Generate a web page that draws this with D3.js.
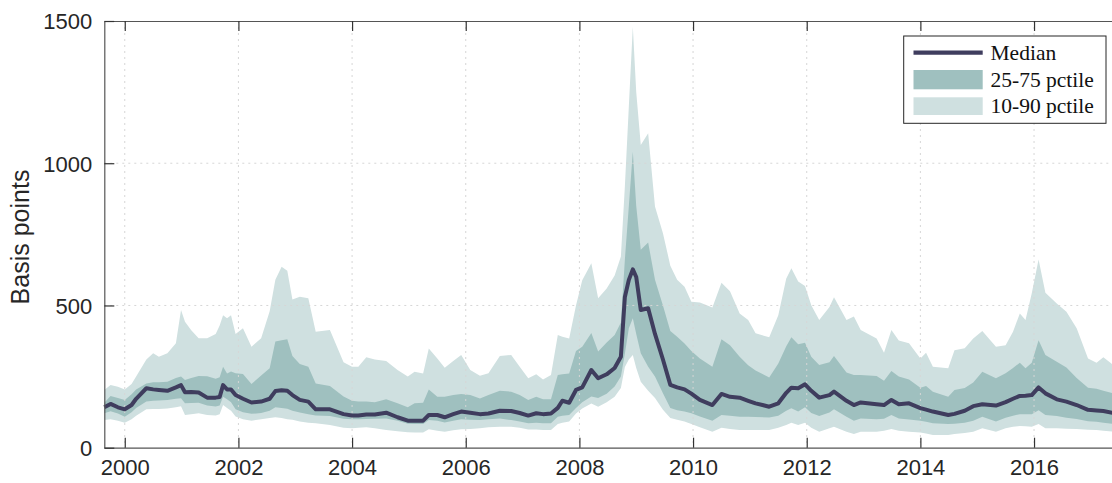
<!DOCTYPE html>
<html><head><meta charset="utf-8">
<script src="https://cdn.jsdelivr.net/npm/d3@7"></script>
<style>body{margin:0;background:#fff}svg{display:block}</style>
</head><body><svg id="c" width="1112" height="483"></svg>
<script>
const dates=[1999.64,1999.75,1999.88,2000.0,2000.12,2000.2,2000.38,2000.5,2000.6,2000.75,2000.9,2000.99,2001.06,2001.17,2001.3,2001.45,2001.6,2001.67,2001.73,2001.8,2001.87,2001.95,2002.08,2002.23,2002.4,2002.55,2002.65,2002.76,2002.86,2002.95,2003.08,2003.23,2003.36,2003.61,2003.85,2004.0,2004.11,2004.25,2004.4,2004.6,2004.8,2004.98,2005.1,2005.25,2005.35,2005.5,2005.63,2005.78,2005.92,2006.08,2006.25,2006.4,2006.6,2006.8,2006.95,2007.1,2007.24,2007.36,2007.5,2007.62,2007.7,2007.82,2007.94,2008.05,2008.21,2008.33,2008.48,2008.62,2008.73,2008.8,2008.87,2008.94,2009.0,2009.08,2009.21,2009.33,2009.47,2009.6,2009.72,2009.85,2009.97,2010.12,2010.34,2010.5,2010.65,2010.82,2010.97,2011.1,2011.34,2011.5,2011.64,2011.73,2011.85,2011.97,2012.08,2012.22,2012.4,2012.48,2012.7,2012.83,2012.95,2013.23,2013.36,2013.49,2013.62,2013.8,2014.0,2014.1,2014.22,2014.49,2014.6,2014.78,2014.93,2015.09,2015.33,2015.5,2015.63,2015.75,2015.85,2015.96,2016.08,2016.2,2016.4,2016.57,2016.75,2016.95,2017.1,2017.22,2017.4,2017.5];
const p10=[97,100,95,88,100,112,135,136,136,138,142,146,115,118,121,115,113,118,150,140,130,110,100,95,100,104,107,104,100,98,92,88,86,80,70,68,70,72,68,62,58,54,53,53,65,60,56,61,65,66,68,72,74,74,70,64,64,62,62,83,88,92,120,138,155,144,160,179,210,284,310,326,280,232,200,175,133,104,98,92,83,72,56,70,66,62,62,62,62,70,80,88,80,88,70,56,68,74,56,48,56,56,60,66,60,56,53,50,45,45,48,52,56,68,56,68,74,76,75,74,83,68,68,67,66,63,62,60,56,55];
const p25=[121,128,120,109,125,140,162,165,166,168,172,174,156,157,158,148,145,148,179,170,160,135,125,119,122,130,142,140,137,130,124,118,113,111,102,100,100,101,102,103,95,84,83,83,97,95,89,95,100,98,97,100,103,97,92,86,88,86,86,109,112,115,140,160,180,175,190,215,250,330,420,455,400,332,285,250,191,140,132,127,121,110,95,115,112,109,109,108,106,112,130,139,127,142,122,111,124,135,109,95,103,100,102,115,103,99,95,91,86,83,84,88,95,109,92,105,112,118,118,118,132,115,111,105,101,93,91,88,83,82];
const median=[142,154,142,135,150,172,209,205,203,200,212,220,195,196,194,176,176,178,220,205,205,185,172,159,162,172,199,202,200,185,168,162,135,135,118,113,113,117,117,123,107,95,95,95,115,115,107,118,127,123,118,120,130,129,122,113,121,118,120,140,165,158,203,212,273,244,258,280,320,530,590,627,600,484,490,400,310,221,212,205,190,168,150,189,179,176,165,156,144,156,193,211,209,223,200,176,185,197,165,150,159,153,150,168,153,156,139,134,127,115,119,130,146,153,148,160,172,182,183,185,212,191,170,162,150,133,131,129,122,120];
const p75=[158,182,175,168,188,205,226,230,230,232,245,250,238,245,252,251,242,248,285,261,268,262,259,224,254,279,373,378,381,322,294,285,226,217,180,165,162,162,160,170,156,142,156,158,205,179,179,185,189,185,173,185,200,197,185,168,179,170,170,256,258,261,340,355,403,338,370,396,440,661,850,1040,850,696,721,590,500,410,390,366,340,314,285,381,360,320,290,271,247,296,357,388,364,369,320,291,300,322,264,256,256,252,235,270,250,240,211,217,197,179,203,210,229,267,244,262,280,299,279,299,378,326,302,282,245,211,207,200,191,188];
const p90=[203,220,214,205,224,250,310,332,320,332,367,484,443,413,385,385,400,430,466,455,466,400,420,355,385,480,590,636,622,521,531,525,408,414,300,285,285,318,310,305,273,250,267,261,349,314,281,305,326,273,253,262,322,326,285,244,258,240,256,396,390,384,500,589,648,525,560,605,672,918,1200,1480,1250,1064,1105,848,754,640,590,566,513,510,493,580,550,472,449,402,388,466,595,631,584,568,501,449,495,529,449,461,414,384,334,414,377,367,314,334,285,279,343,350,384,410,355,360,408,472,449,543,662,545,507,478,420,314,299,318,290,285];
const xTicks=[2000,2002,2004,2006,2008,2010,2012,2014,2016];
const yTicks=[0,500,1000,1500];
const legendLabels=["Median","25-75 pctile","10-90 pctile"];

const svg=d3.select("#c");
const L=104.3,T=21,B=447.7;
const pxPerYear=56.83;
const x=d3.scaleLinear().domain([1999.64,2017.5]).range([L,L+(2017.5-1999.64)*pxPerYear]);
const y=d3.scaleLinear().domain([0,1500]).range([B,T]);
const R=x.range()[1];

const cLight="#cfe0e0",cDark="#9fc0bf",cMed="#3f3d5e",cAxis="#262626";
const data=dates.map((d,i)=>({d,p10:p10[i],p25:p25[i],m:median[i],p75:p75[i],p90:p90[i]}));

const outer=d3.area().x(d=>x(d.d)).y0(d=>y(d.p10)).y1(d=>y(d.p90));
const inner=d3.area().x(d=>x(d.d)).y0(d=>y(d.p25)).y1(d=>y(d.p75));
const line=d3.line().x(d=>x(d.d)).y(d=>y(d.m));

svg.append("path").datum(data).attr("d",outer).attr("fill",cLight);
svg.append("path").datum(data).attr("d",inner).attr("fill",cDark);

// grid
const g=svg.append("g");
g.selectAll("line.vx").data(xTicks).join("line")
  .attr("x1",d=>x(d)).attr("x2",d=>x(d)).attr("y1",T).attr("y2",B)
  .attr("stroke","#d6d6d6").attr("stroke-width",1).attr("stroke-dasharray","2,4");
g.selectAll("line.hy").data(yTicks.filter(v=>v>0&&v<1500)).join("line")
  .attr("x1",L).attr("x2",R).attr("y1",d=>y(d)).attr("y2",d=>y(d))
  .attr("stroke","#d6d6d6").attr("stroke-width",1).attr("stroke-dasharray","2,4");

svg.append("path").datum(data).attr("d",line).attr("fill","none")
  .attr("stroke",cMed).attr("stroke-width",4).attr("stroke-linejoin","round");

// axes
const font="'Liberation Sans', Arial, Helvetica, sans-serif";
const xAx=svg.append("g").attr("transform",`translate(0,${B})`)
  .call(d3.axisBottom(x).tickValues(xTicks).tickFormat(d3.format("d")).tickSizeInner(-10).tickSizeOuter(0).tickPadding(10));
const xTop=svg.append("g").attr("transform",`translate(0,${T})`)
  .call(d3.axisTop(x).tickValues(xTicks).tickFormat("").tickSizeInner(-10).tickSizeOuter(0));
const yAx=svg.append("g").attr("transform",`translate(${L},0)`)
  .call(d3.axisLeft(y).tickValues(yTicks).tickFormat(d3.format("d")).tickSizeInner(-10).tickSizeOuter(0).tickPadding(12));
[xAx,xTop,yAx].forEach(a=>{
  a.select(".domain").attr("stroke","#555").attr("stroke-width",1.2);
  a.selectAll(".tick line").attr("stroke","#333").attr("stroke-width",1.2);
  a.selectAll("text").attr("fill",cAxis).style("font-family",font).style("font-size","22px");
});
xAx.selectAll("text").attr("dy","0.71em").attr("y",12);
yAx.selectAll("text").attr("dy","0.36em");

svg.append("text").attr("transform","translate(29,237) rotate(-90)")
  .attr("text-anchor","middle").attr("fill",cAxis)
  .style("font-family",font).style("font-size","25px").text("Basis points");

// legend
const lg=svg.append("g");
lg.append("rect").attr("x",903.7).attr("y",36).attr("width",202.3).attr("height",87.3)
  .attr("fill","#fff").attr("stroke","#262626").attr("stroke-width",1);
lg.append("line").attr("x1",913.5).attr("x2",982.7).attr("y1",52.7).attr("y2",52.7)
  .attr("stroke",cMed).attr("stroke-width",4.3);
lg.append("rect").attr("x",913.5).attr("y",70).attr("width",69.2).attr("height",19.3).attr("fill",cDark);
lg.append("rect").attr("x",913.5).attr("y",97.3).attr("width",69.2).attr("height",17.7).attr("fill",cLight);
lg.selectAll("text").data(legendLabels).join("text")
  .attr("x",990.5).attr("y",(d,i)=>52.7+i*26.5).attr("dy","0.35em")
  .attr("fill","#111").style("font-family","'Liberation Serif','Times New Roman',serif")
  .style("font-size","21.5px").text(d=>d);
</script>
</body></html>
